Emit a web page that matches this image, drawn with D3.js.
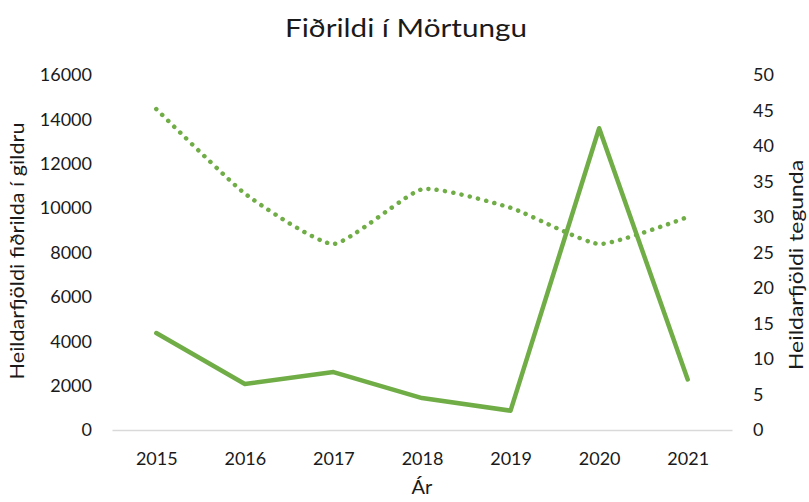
<!DOCTYPE html>
<html><head><meta charset="utf-8">
<script src="https://cdn.jsdelivr.net/npm/d3@7"></script>
<style>body{margin:0;background:#fff}svg{display:block}text{font-family:Lato,"Open Sans",sans-serif;fill:#1a1a1a}</style>
</head><body>
<script>
const years = ["2015","2016","2017","2018","2019","2020","2021"];
const butterflies = [4370, 2070, 2610, 1440, 870, 13600, 2280];
const species = [45.2, 33.3, 26.2, 33.9, 31.3, 26.2, 30.0];
const leftTicks = [0,2000,4000,6000,8000,10000,12000,14000,16000];
const rightTicks = [0,5,10,15,20,25,30,35,40,45,50];

const W=809,H=502, m={l:112,r:77,t:75,b:72};
const svg=d3.select("body").append("svg").attr("width",W).attr("height",H);
const x=d3.scalePoint().domain(years).range([m.l,W-m.r]).padding(0.5);
const yL=d3.scaleLinear().domain([0,16000]).range([H-m.b,m.t]);
const yR=d3.scaleLinear().domain([0,50]).range([H-m.b,m.t]);
const green="#70AD47";

svg.append("text").attr("x",406).attr("y",31).attr("text-anchor","middle").attr("dominant-baseline","middle").attr("font-size",25).attr("textLength",242).attr("lengthAdjust","spacingAndGlyphs").text("Fiðrildi í Mörtungu");

const gL=svg.append("g").attr("transform",`translate(${m.l},0)`).call(d3.axisLeft(yL).tickValues(leftTicks).tickSize(0).tickPadding(20).tickFormat(d3.format("d")));
const gR=svg.append("g").attr("transform",`translate(${W-m.r},0)`).call(d3.axisRight(yR).tickValues(rightTicks).tickSize(0).tickPadding(21));
const gX=svg.append("g").attr("transform",`translate(0,${H-m.b})`).call(d3.axisBottom(x).tickSize(0).tickPadding(22));
[gL,gR].forEach(g=>g.select(".domain").remove());
gX.select(".domain").attr("stroke","#d9d9d9").attr("stroke-width",1.3);
svg.selectAll(".tick text").attr("font-size",18).attr("font-family","Lato").attr("fill","#1a1a1a");

svg.append("text").attr("transform","translate(19,251) rotate(-90)").attr("text-anchor","middle").attr("dominant-baseline","middle").attr("font-size",20).attr("textLength",257).attr("lengthAdjust","spacingAndGlyphs").text("Heildarfjöldi fiðrilda í gildru");
svg.append("text").attr("transform","translate(798,265) rotate(-90)").attr("text-anchor","middle").attr("dominant-baseline","middle").attr("font-size",20).attr("textLength",210).attr("lengthAdjust","spacingAndGlyphs").text("Heildarfjöldi tegunda");
svg.append("text").attr("x",x("2018")).attr("y",489).attr("text-anchor","middle").attr("dominant-baseline","middle").attr("font-size",20).text("Ár");

const lineL=d3.line().x((d,i)=>x(years[i])).y(d=>yL(d));
const lineR=d3.line().x((d,i)=>x(years[i])).y(d=>yR(d)).curve(d3.curveCardinal.tension(0.5));
svg.append("path").datum(species).attr("d",lineR).attr("fill","none").attr("stroke",green).attr("stroke-width",4.5).attr("stroke-linecap","round").attr("stroke-dasharray","0.1 8.3");
svg.append("path").datum(butterflies).attr("d",lineL).attr("fill","none").attr("stroke",green).attr("stroke-width",4.5).attr("stroke-linejoin","round").attr("stroke-linecap","round");
</script>
</body></html>
